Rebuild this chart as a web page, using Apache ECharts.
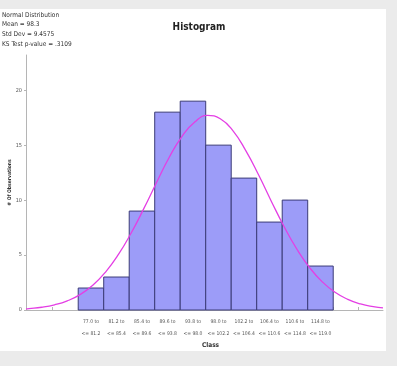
<!DOCTYPE html>
<html>
<head>
<meta charset="utf-8">
<script src="https://cdn.jsdelivr.net/npm/echarts@6/dist/echarts.min.js"></script>
<style>
    html, body { margin: 0; padding: 0; background: #ebebeb; }
    #histo { position: absolute; left: 0; top: 9px; width: 386px; height: 342px; background: #fff; }
</style>
</head>
<body>
<div id="histo"></div>
<script>
// classes de l'histogramme
const binEdges = [77.0, 81.2, 85.4, 89.6, 93.8, 98.0, 102.2, 106.4, 110.6, 114.8, 119.0];
const counts = [2, 3, 9, 18, 19, 15, 12, 8, 10, 4];
const binCenters = [79.1, 83.3, 87.5, 91.7, 95.9, 100.1, 104.3, 108.5, 112.7, 116.9];
const labelFrom = ['77.0 to', '81.2 to', '85.4 to', '89.6 to', '93.8 to', '98.0 to', '102.2 to', '106.4 to', '110.6 to', '114.8 to'];
const labelTo = ['<= 81.2', '<= 85.4', '<= 89.6', '<= 93.8', '<= 98.0', '<= 102.2', '<= 106.4', '<= 110.6', '<= 114.8', '<= 119.0'];
const xTicks = [72.8, 77.0, 81.2, 85.4, 89.6, 93.8, 98.0, 102.2, 106.4, 110.6, 114.8, 119.0, 123.2];
const yTicks = [0, 5, 10, 15, 20];

// courbe normale
const curveX = [68.4, 68.9, 71.0, 73.1, 75.2, 77.3, 79.4, 81.5, 83.6, 85.7, 87.8, 89.9, 92.0, 94.1, 96.2, 98.3,
    100.4, 102.5, 104.6, 106.7, 108.8, 110.9, 113.0, 115.1, 117.2, 119.3, 121.4, 123.5, 125.6, 127.2];
const curveY = [0.11, 0.13, 0.25, 0.47, 0.83, 1.40, 2.25, 3.45, 5.03, 6.98, 9.22, 11.6, 13.9, 15.8, 17.1, 17.7,
    17.4, 16.3, 14.5, 12.3, 9.9, 7.6, 5.55, 3.86, 2.56, 1.61, 0.97, 0.55, 0.30, 0.19];

const statLines = ['Normal Distribution', 'Mean = 98.3', 'Std Dev = 9.4575', 'KS Test p-value = .3109'];

const chart = echarts.init(document.getElementById('histo'));
const narrow = '"Liberation Sans Narrow", "DejaVu Sans Condensed", "Liberation Sans", Arial, sans-serif';

const barData = counts.map((n, i) => [binEdges[i], binEdges[i + 1], n]);

chart.setOption({
    animation: false,
    textStyle: { fontFamily: narrow },
    title: {
        text: 'Histogram',
        left: 194,
        textAlign: 'center',
        top: 8,
        textStyle: { fontFamily: narrow, fontSize: 10, fontWeight: 'bold', color: '#222' }
    },
    graphic: [{
        type: 'text',
        left: 2,
        top: 1,
        style: {
            text: statLines.join('\n'),
            font: '6.5px ' + narrow,
            lineHeight: 9.7,
            fill: '#333'
        }
    }],
    grid: { left: 26, right: 3, top: 46, bottom: 41, containLabel: false, outerBoundsMode: 'none' },
    xAxis: {
        type: 'value',
        min: 68.4,
        max: 127.2,
        name: 'Class',
        nameLocation: 'middle',
        nameGap: 32,
        nameMoveOverlap: false,
        nameTextStyle: { fontFamily: narrow, fontSize: 6.5, fontWeight: 'bold', color: '#333', padding: [0, 0, 0, 12] },
        splitLine: { show: false },
        axisLine: { lineStyle: { color: '#b5b5b5' } },
        axisTick: { customValues: xTicks, inside: true, length: 3, lineStyle: { color: '#b5b5b5' } },
        axisLabel: {
            customValues: binCenters,
            fontSize: 5,
            lineHeight: 12,
            color: '#555',
            margin: 6,
            hideOverlap: false,
            showMinLabel: true,
            showMaxLabel: true,
            formatter: function (v, idx) {
                let i = binCenters.findIndex(c => Math.abs(c - v) < 0.01);
                if (i < 0) i = idx;
                return labelFrom[i] + '\n' + labelTo[i];
            }
        }
    },
    yAxis: {
        type: 'value',
        min: 0,
        max: 23.2,
        name: '# Of Observations',
        nameLocation: 'middle',
        nameGap: 14,
        nameMoveOverlap: false,
        nameTextStyle: { fontFamily: narrow, fontSize: 5, fontWeight: 'bold', color: '#333' },
        splitLine: { show: false },
        axisLine: { show: true, lineStyle: { color: '#b5b5b5' } },
        axisTick: { show: true, customValues: yTicks, length: 2, lineStyle: { color: '#b5b5b5' } },
        axisLabel: { customValues: yTicks, fontSize: 5.5, color: '#555', margin: 4 }
    },
    series: [
        {
            type: 'custom',
            name: 'Observations',
            data: barData,
            encode: { x: [0, 1], y: 2 },
            renderItem: function (params, api) {
                const p0 = api.coord([api.value(0), api.value(2)]);
                const p1 = api.coord([api.value(1), 0]);
                return {
                    type: 'rect',
                    shape: { x: p0[0], y: p0[1], width: p1[0] - p0[0], height: p1[1] - p0[1] },
                    style: { fill: '#9c9cf8', stroke: '#3c3c78', lineWidth: 1 }
                };
            },
            z: 2
        },
        {
            type: 'line',
            name: 'Normal',
            data: curveX.map((x, i) => [x, curveY[i]]),
            smooth: true,
            symbol: 'none',
            lineStyle: { color: '#e43fe4', width: 1.3 },
            z: 3
        }
    ]
});
</script>
</body>
</html>
